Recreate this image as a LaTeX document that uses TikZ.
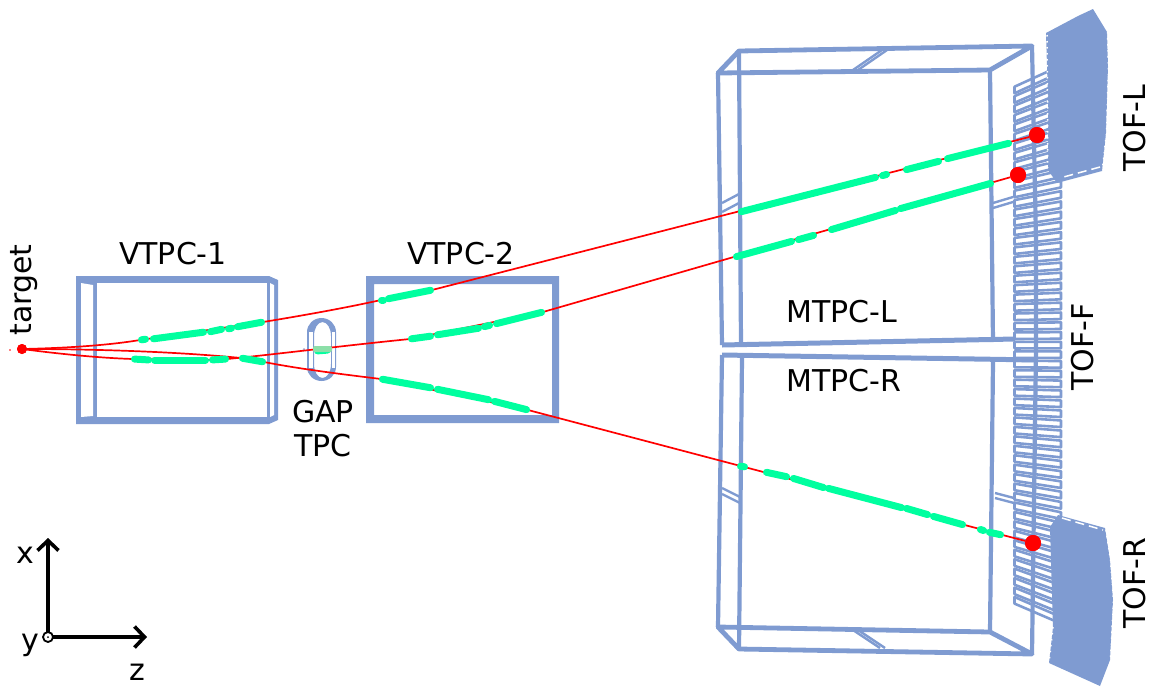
\documentclass[tikz,border=0pt]{standalone}
\usepackage{fontspec}
\setmainfont{DejaVu Sans}
\usetikzlibrary{arrows.meta}
\definecolor{det}{HTML}{7F9BD1}
\definecolor{seg}{HTML}{00FF9F}
\definecolor{gapseg}{HTML}{8CDFA8}
\tikzset{
  lbl/.style={inner sep=0pt,font=\fontsize{30}{35}\selectfont,text=black},
  frm/.style={draw=det,line width=4.2pt,line join=round},
  frmthin/.style={draw=det,line width=2.4pt},
  solid det/.style={fill=det,draw=none},
  hole/.style={fill=white,draw=none},
  track/.style={draw=red,line width=1.7pt},
  hit/.style={circle,fill=red,inner sep=0pt,minimum size=16pt},
  seg line/.style={draw=seg,line width=7pt,line cap=round,shorten >=1.5pt,shorten <=1.5pt},
  slat/.style={fill=white,draw=det,line width=2.6pt,line join=round},
  notch/.style={draw=white,line width=1.5pt,dash pattern=on 1.5pt off 4.5pt},
  axis/.style={draw=black,line width=3.6pt,-{Straight Barb[length=10pt,width=21pt,line width=3.6pt]}},
}
\begin{document}
\begin{tikzpicture}[x=1pt,y=-1pt]
\useasboundingbox (0,0) rectangle (1151,686);
% TOF-F slats
\foreach \i in {0,...,54}{
  \pgfmathsetmacro{\yl}{90+9.45*\i}
  \pgfmathsetmacro{\tt}{(\yl-350)/260}
  \pgfmathsetmacro{\yr}{\yl+47*0.45*\tt*sqrt(abs(\tt))}
  \path[slat] (1014.5,\yl-3.3) -- (1061,\yr-3.3) -- (1061,\yr+3.3) -- (1014.5,\yl+3.3) -- cycle;
}
% MTPC-L
\draw[frm,line width=4.8pt] (718,73) -- (739,51) -- (1032,46) -- (990,70) -- cycle;
\draw[frm] (718,73) -- (722,345);
\draw[frm] (739,51) -- (741,345);
\draw[frm] (990,70) -- (993,342);
\draw[frm] (1032,46) -- (1036,240) -- (1036,350);
\draw[frm,line width=5pt] (722,345) -- (1015,339);
\foreach \a/\b/\c/\d in {853/70/882/50,858/70/887/50}{\draw[frmthin] (\a,\b) -- (\c,\d);}
\draw[frmthin] (722,203) -- (739,194);
\draw[frmthin] (722,212) -- (739,203);
\draw[frmthin] (993,203) -- (1013,197);
\draw[frmthin] (993,208) -- (1013,202);
% MTPC-R
\draw[frm,line width=5pt] (722,355) -- (1038,360);
\draw[frm,line width=4.8pt] (718,627) -- (739,649) -- (1032,654) -- (990,632) -- cycle;
\draw[frm] (722,355) -- (718,627);
\draw[frm] (742,358) -- (739,649);
\draw[frm] (993,362) -- (990,632);
\draw[frm] (1036,350) -- (1032,654);
\foreach \a/\b/\c/\d in {853/630/880/648,858/630/885/648}{\draw[frmthin] (\a,\b) -- (\c,\d);}
\draw[frmthin] (722,488) -- (740,497);
\draw[frmthin] (722,494) -- (740,503);
\draw[frmthin] (995,493) -- (1014,498);
\draw[frmthin] (995,498) -- (1014,503);
% VTPC-1
\path[solid det] (76,276) -- (269,276) -- (278,280) -- (278,420) -- (269,424) -- (76,424) -- cycle;
\path[hole] (81,283) -- (93,285) -- (93,416) -- (81,417) -- cycle;
\path[hole] (97,283) rectangle (267,417);
\path[hole] (270,283) -- (274,285) -- (274,415) -- (270,417) -- cycle;
% VTPC-2
\path[solid det,even odd rule] (366,276) rectangle (559,423) (374,284) rectangle (552,415);
% GAP TPC
\path[solid det,even odd rule] (307,332) arc[start angle=180,end angle=360,x radius=14.5,y radius=14] -- (336,367) arc[start angle=0,end angle=180,x radius=14.5,y radius=14] -- cycle
 (314,336) -- (314,364) arc[start angle=180,end angle=0,x radius=8.5,y radius=14] -- (331,336) arc[start angle=0,end angle=-180,x radius=8.5,y radius=14] -- cycle;
\path[hole] (309,332) rectangle (313,368);
\path[hole] (332,332) rectangle (335,368);
\path[solid det] (304,349) circle[radius=1];
% TOF-L
\path[solid det] (1046,33) -- (1078,16) -- (1093,9) -- (1107,32) -- (1108,67) -- (1106,133) -- (1102,171) -- (1057,183) -- (1048,170) -- (1048,100) -- cycle;
\draw[white,line width=1.5pt,dash pattern=on 9pt off 5pt] (1100,167) -- (1060,178);
\draw[notch] (1107.5,32) -- (1108.5,67) -- (1106.5,133) -- (1102.5,168);
\draw[notch] (1047,35) -- (1047.5,100) -- (1047.5,168);
% TOF-R
\path[solid det] (1058,515) -- (1105,528) -- (1110,560) -- (1113,600) -- (1110,660) -- (1100,686) -- (1049,663) -- (1053,627) -- (1050,527) -- cycle;
\draw[white,line width=1.5pt,dash pattern=on 9pt off 5pt] (1062,518) -- (1103,530);
\draw[notch] (1106,530) -- (1110.5,560) -- (1113.5,600) -- (1110.5,660);
\draw[notch] (1053,627) -- (1049,663);
% anchors
\node[hit,minimum size=10pt] (target) at (22,349) {};
\node[hit] (hitA) at (1037,135) {};
\node[hit] (hitC) at (1018,175) {};
\node[hit] (hitB) at (1033,543) {};
\path[fill=red] (10,350) circle[radius=.8];
% tracks
\draw[track] (target.center) .. controls (70,348) and (110,345) .. (140,340) -- (263,322) .. controls (300,316) and (345,308) .. (381,300) -- (432,290) -- (hitA);
\draw[track] (target.center) .. controls (100,349) and (180,352) .. (241,358) -- (264,362) .. controls (300,369) and (340,374) .. (381,379) -- (528,410) -- (hitB);
\draw[track] (target.center) .. controls (60,354) and (100,358) .. (133,359) -- (207,360) -- (227,359) .. controls (270,355) and (340,346) .. (410,339) -- (543,312) -- (hitC);
% segments
\foreach \a/\b/\c/\d in {
 140/340/147/339, 152/339/205/332, 209/332/223/329, 227/329/233/328, 236/327/263/322,
 133/359/150/360, 153/360/207/360, 211/360/227/359, 241/358/264/362,
 380/300/385/300, 387/299/432/290,
 410/339/432/336, 436/335/480/328, 483/327/491/325, 495/324/543/312,
 381/379/432/388, 436/389/490/400, 493/401/528/410,
 740/212/877/177, 881/176/888/174, 905/170/940/161, 946/159/1010/143,
 735/257/793/241, 797/240/815/235, 830/230/897/210, 899/209/992/183,
 739/466/746/467, 765/472/788/477, 792/478/825/488, 827/488/903/508, 905/508/929/515, 932/516/964/525, 979/529/985/531, 988/532/1002/535,
 316/351/329/350}{
  \draw[seg line] (\a,\b) -- (\c,\d);
}
\path[fill=gapseg,rounded corners=1.5pt] (313,346) rectangle (332,352);
% hits on top
\node[hit,minimum size=10pt] at (target.center) {};
\node[hit] at (hitA.center) {};
\node[hit] at (hitC.center) {};
\node[hit] at (hitB.center) {};
% axes
\coordinate (org) at (48,637);
\coordinate (xtip) at (48,538);
\coordinate (ztip) at (147,637);
\draw[axis] (org) -- (xtip);
\draw[axis] (org) -- (ztip);
\node[circle,draw=black,fill=white,line width=1.8pt,minimum size=10pt,inner sep=0pt] (orig) at (org) {};
\path[fill=black] (org) circle[radius=1];
% labels
\node[lbl,rotate=90] (ltarget) at (24,290) {target};
\node[lbl] (lv1) at (173,254) {VTPC-1};
\node[lbl] (lv2) at (461,254) {VTPC-2};
\node[lbl] (lgap) at (323,412) {GAP};
\node[lbl] (ltpc) at (323,446) {TPC};
\node[lbl] (lml) at (842,312) {MTPC-L};
\node[lbl] (lmr) at (844,381) {MTPC-R};
\node[lbl,rotate=90] (ltl) at (1135,128) {TOF-L};
\node[lbl,rotate=90] (ltf) at (1083,347) {TOF-F};
\node[lbl,rotate=90] (ltr) at (1135,583) {TOF-R};
\node[lbl] (lx) at (25,555) {x};
\node[lbl] (ly) at (30,645) {y};
\node[lbl] (lz) at (137,672) {z};
\end{tikzpicture}
\end{document}
